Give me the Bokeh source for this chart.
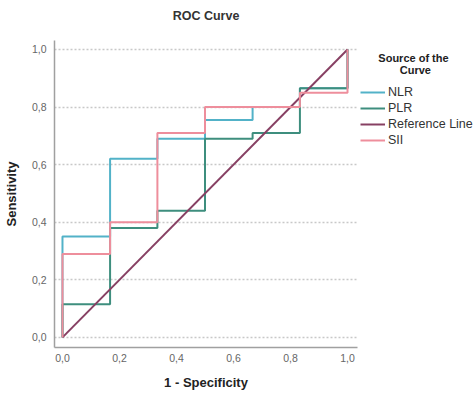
from bokeh.plotting import figure
from bokeh.models import Range1d, FixedTicker, Legend, LegendItem
from bokeh.embed import file_html
from bokeh.resources import INLINE

# ---- data ----
nlr_fpr = [0, 0, 0.167, 0.167, 0.333, 0.333, 0.5, 0.5, 0.667, 0.667, 0.833, 0.833, 1, 1]
nlr_tpr = [0, 0.35, 0.35, 0.62, 0.62, 0.69, 0.69, 0.755, 0.755, 0.80, 0.80, 0.865, 0.865, 1]
plr_fpr = [0, 0, 0.167, 0.167, 0.333, 0.333, 0.5, 0.5, 0.667, 0.667, 0.833, 0.833, 1, 1]
plr_tpr = [0, 0.115, 0.115, 0.38, 0.38, 0.44, 0.44, 0.69, 0.69, 0.71, 0.71, 0.865, 0.865, 1]
ref_fpr = [0, 1]
ref_tpr = [0, 1]
sii_fpr = [0, 0, 0.167, 0.167, 0.333, 0.333, 0.5, 0.5, 0.833, 0.833, 1, 1]
sii_tpr = [0, 0.29, 0.29, 0.40, 0.40, 0.71, 0.71, 0.80, 0.80, 0.85, 0.85, 1]
ticks = [0, 0.2, 0.4, 0.6, 0.8, 1.0]
tick_labels = ["0,0", "0,2", "0,4", "0,6", "0,8", "1,0"]
series_names = ["NLR", "PLR", "Reference Line", "SII"]

FONT = "Liberation Sans"
NB = "\u00a0"

p = figure(frame_width=303, frame_height=307, output_backend="svg", toolbar_location=None,
           x_range=Range1d(-0.028, 1.035), y_range=Range1d(-0.035, 1.031),
           min_border_left=51, min_border_right=5, min_border_top=0, min_border_bottom=40,
           title="ROC Curve")
p.styles = {"margin-top": "-11px"}
p.outline_line_color = None
p.background_fill_color = "white"
p.title.text_font = FONT
p.title.text_font_style = "bold"
p.title.text_font_size = "12.5px"
p.title.text_color = "#333333"
p.title.align = "center"
p.title.standoff = 35

for ax, lab in ((p.xaxis, "1 - Specificity"), (p.yaxis, "Sensitivity")):
    ax.ticker = FixedTicker(ticks=ticks)
    ax.major_label_overrides = {t: l for t, l in zip(ticks, tick_labels)}
    ax.axis_label = lab
    ax.axis_label_text_font = FONT
    ax.axis_label_text_font_style = "bold"
    ax.axis_label_text_font_size = "13px"
    ax.axis_label_text_color = "#222222"
    ax.major_label_text_font = FONT
    ax.major_label_text_font_size = "10.5px"
    ax.major_label_text_color = "#666666"
    ax.major_tick_out = 0
    ax.major_tick_in = 0
    ax.minor_tick_out = 0
    ax.minor_tick_in = 0
    ax.axis_line_color = "#a0a0a0"
    ax.axis_line_width = 1.5

p.xaxis.major_label_standoff = 6
p.xaxis.axis_label_standoff = 10
p.yaxis.major_label_standoff = 8
p.yaxis.axis_label_standoff = 10

p.xgrid.grid_line_color = None
p.ygrid.ticker = FixedTicker(ticks=ticks)
p.ygrid.grid_line_color = "#c8c8c8"
p.ygrid.grid_line_dash = "2 2"
p.ygrid.grid_line_width = 1.5

colors = ["#52b2c8", "#3e8e7e", "#874063", "#ee8e9c"]
r_nlr = p.line(nlr_fpr, nlr_tpr, line_color=colors[0], line_width=2)
r_plr = p.line(plr_fpr, plr_tpr, line_color=colors[1], line_width=2)
r_ref = p.line(ref_fpr, ref_tpr, line_color=colors[2], line_width=2)
r_sii = p.line(sii_fpr, sii_tpr, line_color=colors[3], line_width=2)

legend = Legend(items=[LegendItem(label=n, renderers=[r]) for n, r in
                       zip(series_names, [r_nlr, r_plr, r_ref, r_sii])],
                location=(3, 199), orientation="vertical",
                title=NB * 6 + "Source of the\n" + NB * 13 + "Curve", title_text_font=FONT,
                title_text_font_style="bold", title_text_font_size="11px",
                title_text_line_height=0.95,
                title_text_color="#222222", title_standoff=8,
                spacing=0, label_height=16, glyph_height=16, glyph_width=25,
                label_standoff=3, padding=0, margin=0,
                border_line_color=None, background_fill_alpha=0,
                label_text_font=FONT, label_text_font_size="12.5px",
                label_text_color="#333333")
p.add_layout(legend, "right")

open("out.html", "w").write(file_html(p, INLINE))
